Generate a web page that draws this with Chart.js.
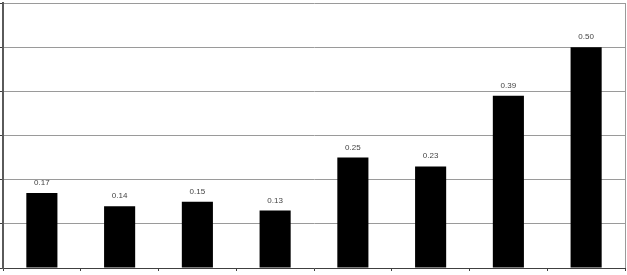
<!DOCTYPE html>
<html>
<head>
<meta charset="utf-8">
<script src="https://cdn.jsdelivr.net/npm/chart.js@4"></script>
<style>
  html, body { margin: 0; padding: 0; background: #fff; }
  #caja { width: 627px; height: 275px; }
</style>
</head>
<body>
<div id="caja"><canvas id="miGrafico"></canvas></div>
<script>
const categorias = ['1', '2', '3', '4', '5', '6', '7', '8'];
const valores = [0.17, 0.14, 0.15, 0.13, 0.25, 0.23, 0.39, 0.50];
const etiquetas = ['0.17', '0.14', '0.15', '0.13', '0.25', '0.23', '0.39', '0.50'];

// marco derecho + etiquetas encima de las barras
const extras = {
    id: 'extras',
    afterDatasetsDraw(chart) {
        const ctx = chart.ctx;
        const area = chart.chartArea;
        ctx.save();
        ctx.strokeStyle = '#9a9a9a';
        ctx.lineWidth = 1;
        ctx.beginPath();
        ctx.moveTo(area.right + 0.5, area.top);
        ctx.lineTo(area.right + 0.5, area.bottom);
        ctx.stroke();

        ctx.fillStyle = '#444';
        ctx.font = '8px "Liberation Sans", Arial, sans-serif';
        ctx.textAlign = 'center';
        ctx.textBaseline = 'alphabetic';
        chart.getDatasetMeta(0).data.forEach((barra, i) => {
            ctx.fillText(etiquetas[i], barra.x, barra.y - 8);
        });
        ctx.restore();
    }
};

const contexto = document.getElementById('miGrafico').getContext('2d');
new Chart(contexto, {
    type: 'bar',
    data: {
        labels: categorias,
        datasets: [{
            data: valores,
            backgroundColor: '#000',
            borderWidth: 0,
            barPercentage: 0.4,
            categoryPercentage: 1
        }]
    },
    options: {
        responsive: true,
        maintainAspectRatio: false,
        animation: false,
        layout: { padding: { top: 3, left: 0, right: 2, bottom: 4 } },
        plugins: {
            legend: { display: false },
            tooltip: { enabled: false }
        },
        scales: {
            x: {
                grid: {
                    drawOnChartArea: false,
                    tickLength: 3,
                    color: '#404040'
                },
                border: { color: '#404040', width: 1 },
                ticks: { display: false }
            },
            y: {
                min: 0,
                max: 0.6,
                ticks: { display: false, stepSize: 0.1 },
                grid: {
                    color: '#9a9a9a',
                    tickLength: 3,
                    tickColor: '#404040'
                },
                border: { color: '#5a5a5a', width: 2 }
            }
        }
    },
    plugins: [extras]
});
</script>
</body>
</html>
